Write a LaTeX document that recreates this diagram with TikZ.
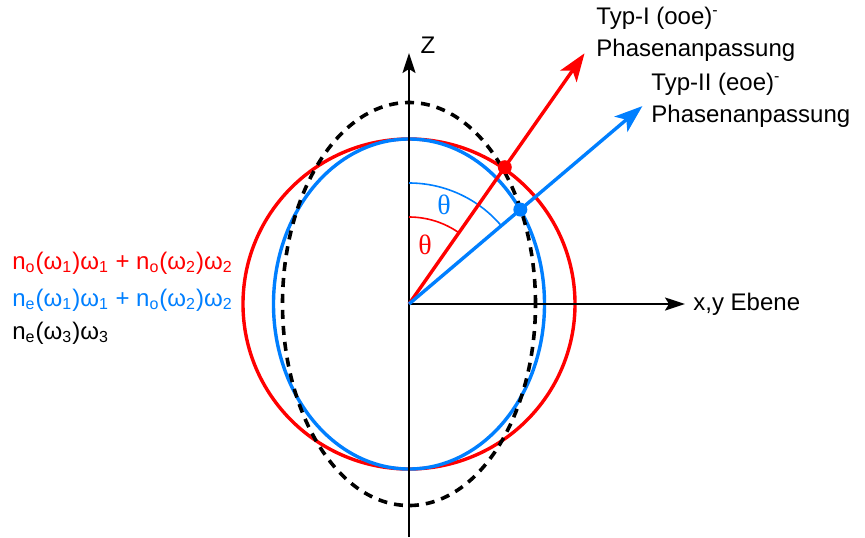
\documentclass[tikz,border=0pt]{standalone}
\usepackage{fontspec}
\setmainfont{Liberation Sans}
\newfontfamily\serifgreek{Liberation Serif}
\usepackage{tikz}
\usepackage{xcolor}
\usetikzlibrary{arrows.meta,calc,positioning}
\newcommand{\idx}[1]{\textsubscript{#1}}
\definecolor{phRed}{RGB}{255,0,0}
\definecolor{phBlue}{RGB}{0,127,255}
\colorlet{phLine}{black}
\tikzset{
  phaxis/.style={
    -{Stealth[length=10pt,width=6.5pt,inset=2pt]},
    line width=1pt, draw=phLine
  },
  phvec/.style={-{Stealth[length=14pt,width=10pt,inset=3.5pt]}, line width=1.7pt},
  phcurve/.style={line width=1.7pt},
  phdash/.style={line width=1.8pt, draw=phLine, dash pattern=on 4.5pt off 3.5pt},
  pharc/.style={line width=0.8pt},
  phdot/.style={circle, inner sep=0pt, minimum size=7pt},
  phlabel/.style={font=\fontsize{12}{16}\selectfont, inner sep=0pt, align=left},
  phangle/.style={font=\serifgreek\fontsize{14}{14}\selectfont, inner sep=0pt}
}

\begin{document}
\begin{tikzpicture}[x=0.5pt,y=0.5pt]
  \useasboundingbox (-409,-233) rectangle (456,304);
  \coordinate (O) at (0,0);
  \coordinate (zbot) at (0,-233);
  \coordinate (ztop) at (0,251);
  \coordinate (xytip) at (276,0);
  \coordinate (tipI) at (55:306);
  \coordinate (tipII) at (40.3:306);

  \draw[phcurve, draw=phRed] (O) ellipse[x radius=166, y radius=165];
  \draw[phcurve, draw=phBlue] (O) ellipse[x radius=135.5, y radius=165];
  \draw[phdash] (O) ellipse[x radius=126.5, y radius=201.5];

  \draw[phaxis] (zbot) -- (ztop);
  \draw[phaxis] (O) -- (xytip);

  \draw[pharc, draw=phRed] (90:87) arc[start angle=90, end angle=55, radius=87];
  \draw[pharc, draw=phBlue] (90:121) arc[start angle=90, end angle=40.3, radius=121];

  \draw[phvec, draw=phRed] (O) -- (tipI);
  \draw[phvec, draw=phBlue] (O) -- (tipII);

  \node[phdot, fill=phRed] (dotI) at (55:167) {};
  \node[phdot, fill=phBlue] (dotII) at (40.3:146) {};

  \node[phangle, text=phRed] (thI) at (16,59) {θ};
  \node[phangle, text=phBlue] (thII) at (35,99) {θ};

  \node[phlabel] (zlab) at (19,259) {Z};
  \node[phlabel, anchor=west] (xylab) at (284,0) {x,y Ebene};
  \node[phlabel, anchor=west] (typI) at (187,270)
    {Typ-I (ooe)\textsuperscript{-}\\Phasenanpassung};
  \node[phlabel, anchor=west] (typII) at (242,204)
    {Typ-II (eoe)\textsuperscript{-}\\Phasenanpassung};

  \node[phlabel, anchor=west, text=phRed] (sumI) at (-397,41)
    {n\idx{o}(ω\idx{1})ω\idx{1} + n\idx{o}(ω\idx{2})ω\idx{2}};
  \node[phlabel, anchor=west, text=phBlue] (sumII) at (-397,4)
    {n\idx{e}(ω\idx{1})ω\idx{1} + n\idx{o}(ω\idx{2})ω\idx{2}};
  \node[phlabel, anchor=west] (sumIII) at (-397,-29)
    {n\idx{e}(ω\idx{3})ω\idx{3}};
\end{tikzpicture}
\end{document}
